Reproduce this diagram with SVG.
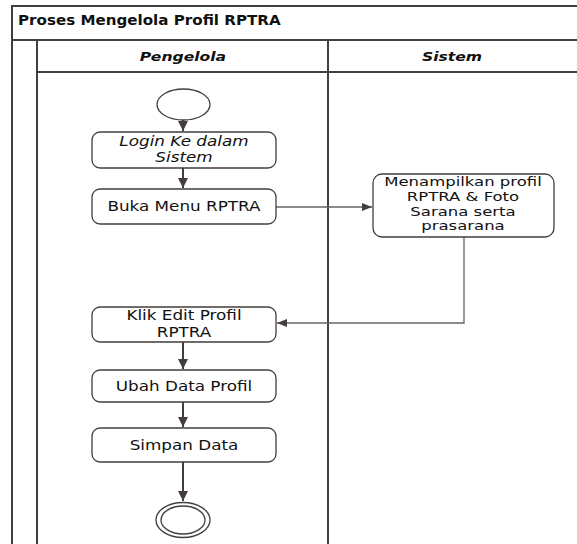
<svg xmlns="http://www.w3.org/2000/svg" width="577" height="544" viewBox="0 0 577 544">
<defs>
<style>
.frame{fill:none;stroke:#433e3b;stroke-width:2}
.node{fill:#fff;stroke:#433e3b;stroke-width:1.3}
.t{font-family:"DejaVu Sans",Verdana,sans-serif;font-size:14px;fill:#111;text-anchor:middle}
.ts{font-size:12.4px}
.ti{font-style:italic}
.hd{font-family:"DejaVu Sans",Verdana,sans-serif;font-size:13px;font-weight:bold;font-style:italic;fill:#111;text-anchor:middle}
.title{font-family:"DejaVu Sans",Verdana,sans-serif;font-size:13.5px;font-weight:bold;fill:#111}
.c{fill:none;stroke:#433e3b;stroke-width:2}
.c2{fill:none;stroke:#6a6462;stroke-width:1.3}
</style>
<marker id="ah" viewBox="0 0 10 10" refX="10" refY="5" markerWidth="5" markerHeight="5" orient="auto" markerUnits="strokeWidth"><path d="M0,0 L10,5 L0,10 z" fill="#433e3b"/></marker>
<marker id="ah2" viewBox="0 0 10 10" refX="10" refY="5" markerWidth="8" markerHeight="8" orient="auto" markerUnits="strokeWidth"><path d="M0,1 L10,5 L0,9 z" fill="#433e3b"/></marker>
</defs>
<rect width="577" height="544" fill="#fff"/>
<g id="pool">
<path class="frame" d="M12,544 V6 H578 M12,40 H578 M37,40 V544 M37,72 H578 M328,40 V544"/>
<text class="title" x="18" y="25" transform="translate(18,0) scale(1.12,1) translate(-18,0)">Proses Mengelola Profil RPTRA</text>
<text class="hd" x="183" y="61" transform="translate(183,0) scale(1.2,1) translate(-183,0)">Pengelola</text>
<text class="hd" x="452" y="61" transform="translate(452,0) scale(1.2,1) translate(-452,0)">Sistem</text>
</g>
<g id="connectors">
<path class="c" d="M183,120 V131" marker-end="url(#ah)"/>
<path class="c" d="M183,168 V188" marker-end="url(#ah)"/>
<path class="c2" d="M276,207 H372" marker-end="url(#ah2)"/>
<path class="c2" d="M464,237 V323 H277" marker-end="url(#ah2)"/>
<path class="c" d="M183,342 V369" marker-end="url(#ah)"/>
<path class="c" d="M183,402 V427" marker-end="url(#ah)"/>
<path class="c" d="M183,462 V501" marker-end="url(#ah)"/>
</g>
<g id="start"><ellipse class="node" cx="183.5" cy="104.5" rx="26.5" ry="15.5"/></g>
<g id="login"><rect class="node" x="92" y="132" width="184" height="36" rx="8"/>
<text class="t ti" x="184" y="146" transform="translate(184,0) scale(1.2,1) translate(-184,0)">Login Ke dalam</text>
<text class="t ti" x="184" y="162.5" transform="translate(184,0) scale(1.2,1) translate(-184,0)">Sistem</text></g>
<g id="buka"><rect class="node" x="92" y="189" width="184" height="35" rx="8"/>
<text class="t" x="184" y="211.5" transform="translate(184,0) scale(1.2,1) translate(-184,0)">Buka Menu RPTRA</text></g>
<g id="menampilkan"><rect class="node" x="373" y="174" width="181" height="63" rx="9"/>
<text class="t ts" x="463" y="186.5" transform="translate(463,0) scale(1.33,1) translate(-463,0)">Menampilkan profil</text>
<text class="t ts" x="463" y="201.1" transform="translate(463,0) scale(1.33,1) translate(-463,0)">RPTRA &amp; Foto</text>
<text class="t ts" x="463" y="215.7" transform="translate(463,0) scale(1.33,1) translate(-463,0)">Sarana serta</text>
<text class="t ts" x="463" y="230.3" transform="translate(463,0) scale(1.33,1) translate(-463,0)">prasarana</text></g>
<g id="klik"><rect class="node" x="92" y="307" width="184" height="35" rx="8"/>
<text class="t" x="184" y="320.5" transform="translate(184,0) scale(1.2,1) translate(-184,0)">Klik Edit Profil</text>
<text class="t" x="184" y="337" transform="translate(184,0) scale(1.2,1) translate(-184,0)">RPTRA</text></g>
<g id="ubah"><rect class="node" x="92" y="370" width="184" height="32" rx="8"/>
<text class="t" x="184" y="391" transform="translate(184,0) scale(1.2,1) translate(-184,0)">Ubah Data Profil</text></g>
<g id="simpan"><rect class="node" x="92" y="428" width="184" height="34" rx="8"/>
<text class="t" x="184" y="450" transform="translate(184,0) scale(1.2,1) translate(-184,0)">Simpan Data</text></g>
<g id="end"><ellipse class="node" cx="183" cy="520" rx="27" ry="17.5"/><ellipse class="node" cx="183" cy="520" rx="22" ry="14"/></g>
</svg>
